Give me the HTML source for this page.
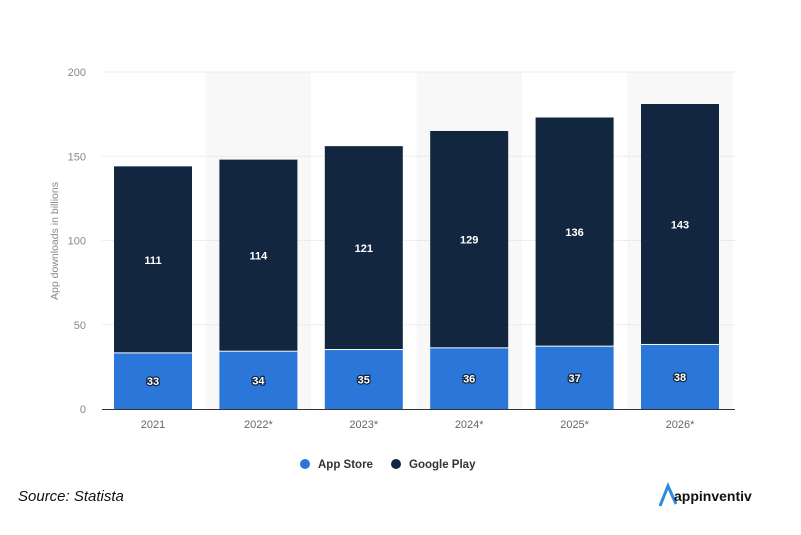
<!DOCTYPE html>
<html><head><meta charset="utf-8"><style>
body{margin:0;background:#fff;width:801px;height:530px;overflow:hidden;font-family:"Liberation Sans",sans-serif}
</style></head><body>
<svg id="chart" width="801" height="530" xmlns="http://www.w3.org/2000/svg"></svg>
<script>
const categories=["2021","2022*","2023*","2024*","2025*","2026*"];
const appStore=[33,34,35,36,37,38];
const googlePlay=[111,114,121,129,136,143];
const yTicks=[0,50,100,150,200];
const NS="http://www.w3.org/2000/svg";
const svg=document.getElementById('chart');
const y0=409,yTop=72,yMax=200;
const yScale=v=>y0-(v/yMax)*(y0-yTop);
const step=105.4,firstC=153,bw=78;
const xC=i=>firstC+i*step;
function mk(tag,attrs,parent){const e=document.createElementNS(NS,tag);for(const k in attrs)e.setAttribute(k,attrs[k]);(parent||svg).appendChild(e);return e;}
categories.forEach((c,i)=>{if(i%2===1){const r=mk('rect',{x:xC(i)-step/2,y:yTop,width:step,height:y0-yTop,fill:'#f8f8f8'});

}});
yTicks.forEach(t=>{
 if(t>0){const l=mk('line',{x1:102,x2:735,y1:yScale(t),y2:yScale(t),stroke:'#ddd','stroke-dasharray':'1,1'});
 
 }
 const tx=mk('text',{x:86,y:yScale(t)+4,'text-anchor':'end','font-size':'11',fill:'#888'});tx.textContent=t;
 
 
});
const yt=mk('text',{x:0,y:0,transform:'translate(58,241) rotate(-90)','text-anchor':'middle','font-size':'10.5',fill:'#888'});yt.textContent='App downloads in billions';


categories.forEach((c,i)=>{
 const cx=xC(i);
 const a0=yScale(0),a1=yScale(appStore[i]),g1=yScale(appStore[i]+googlePlay[i]);
 const rb=mk('rect',{x:cx-bw/2,y:a1,width:bw,height:a0-a1,fill:'#2b77d9'});
 
 
 const rg=mk('rect',{x:cx-bw/2,y:g1,width:bw,height:a1-g1-1,fill:'#12263f'});
 
 
 const la=mk('text',{x:cx,y:(a0+a1)/2+4,'text-anchor':'middle','font-size':'11','font-weight':'bold',fill:'#fff',stroke:'#12263f','stroke-width':'2.5','paint-order':'stroke'});la.textContent=appStore[i];
 
 
 const lg=mk('text',{x:cx,y:(a1+g1)/2+4,'text-anchor':'middle','font-size':'11','font-weight':'bold',fill:'#fff'});lg.textContent=googlePlay[i];
 
 
 const xl=mk('text',{x:cx,y:428,'text-anchor':'middle','font-size':'11',fill:'#666'});xl.textContent=c;
 
 
});
const ax=mk('line',{x1:102,x2:735,y1:y0+0.5,y2:y0+0.5,stroke:'#333','stroke-width':'1'});


const lgA=mk('g',{});
mk('circle',{cx:305,cy:464,r:5,fill:'#2b77d9'},lgA);
const t1=mk('text',{x:318,y:468,'font-size':'11.5','font-weight':'bold',fill:'#333'},lgA);t1.textContent='App Store';
const lgG=mk('g',{});
mk('circle',{cx:396,cy:464,r:5,fill:'#12263f'},lgG);
const t2=mk('text',{x:409,y:468,'font-size':'11.5','font-weight':'bold',fill:'#333'},lgG);t2.textContent='Google Play';
const src=mk('text',{x:18,y:501,'font-size':'15','font-style':'italic',fill:'#111'});src.textContent='Source: Statista';


const logo=mk('g',{});
mk('path',{d:'M660 506 L668 486 L676 504 M668 486 L664 496',stroke:'#2b8be0','stroke-width':'3',fill:'none'},logo);
const lt=mk('text',{x:674,y:501,'font-size':'14','font-weight':'bold',fill:'#111'},logo);lt.textContent='appinventiv';
</script>
</body></html>
